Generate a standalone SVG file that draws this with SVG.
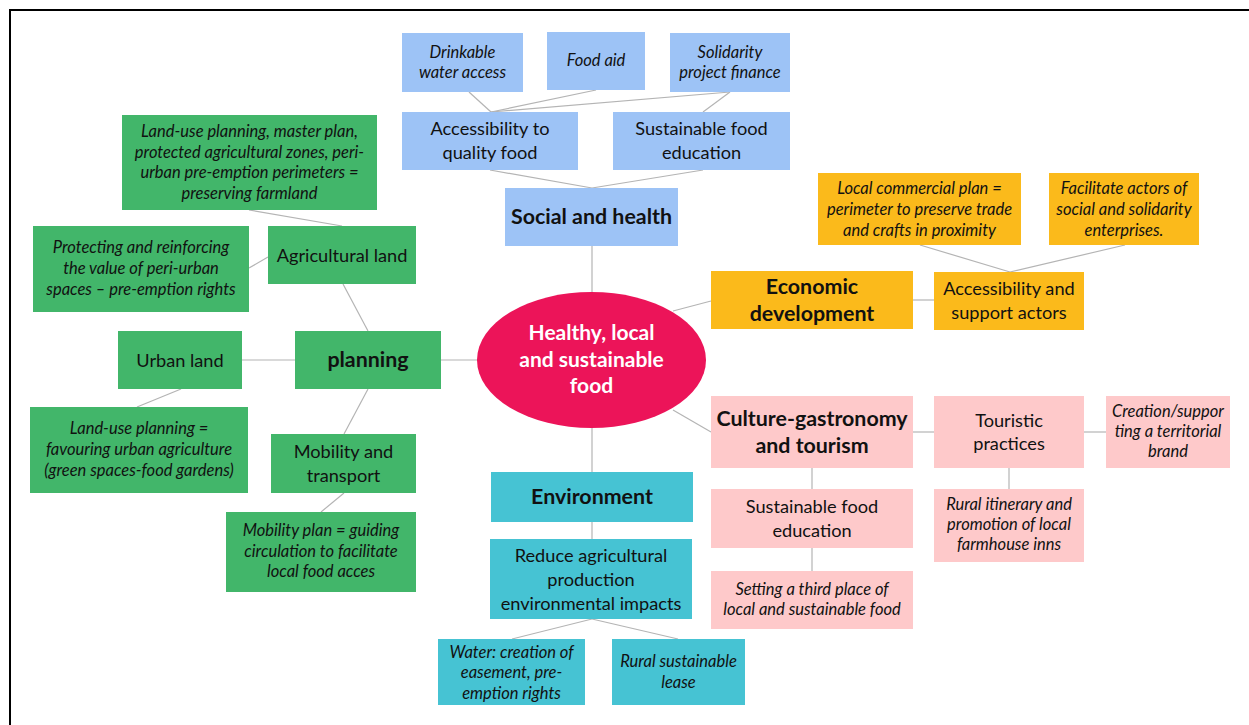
<svg xmlns="http://www.w3.org/2000/svg" width="1249" height="725" viewBox="0 0 1249 725">
<style>
text{font-family:Lato,"Open Sans","Liberation Sans",sans-serif;fill:#111;text-anchor:middle}
.n{font-size:18.2px}
.i{font-size:16.5px;font-style:italic}
.b{font-size:21.4px;font-weight:bold}
.c{font-size:21px;font-weight:bold;fill:#fff}
.blue{fill:#9DC3F6}
.green{fill:#42B66A}
.orange{fill:#FBBA1B}
.pink{fill:#FEC9CA}
.teal{fill:#46C3D3}
#connectors line{stroke:#B4B4B4;stroke-width:1.2}
</style>
<rect width="1249" height="725" fill="#fff"/>
<path d="M10,725 V10 H1249" fill="none" stroke="#000" stroke-width="2"/>
<g id="connectors">
<line x1="469" y1="92" x2="491" y2="112"/>
<line x1="596" y1="90" x2="491" y2="112"/>
<line x1="730" y1="92" x2="491" y2="112"/>
<line x1="730" y1="92" x2="703" y2="112"/>
<line x1="490" y1="170" x2="592" y2="188"/>
<line x1="703" y1="170" x2="592" y2="188"/>
<line x1="592" y1="246" x2="592" y2="292"/>
<line x1="249" y1="210" x2="342" y2="226"/>
<line x1="249" y1="268" x2="268" y2="257"/>
<line x1="343" y1="284" x2="368" y2="331"/>
<line x1="242" y1="360" x2="295" y2="360"/>
<line x1="441" y1="360" x2="478" y2="360"/>
<line x1="181" y1="389" x2="137" y2="407"/>
<line x1="368" y1="389" x2="344" y2="434"/>
<line x1="344" y1="493" x2="321" y2="512"/>
<line x1="673" y1="311" x2="711" y2="301"/>
<line x1="913" y1="300" x2="934" y2="300"/>
<line x1="920" y1="245" x2="1010" y2="272"/>
<line x1="1125" y1="245" x2="1010" y2="272"/>
<line x1="673" y1="410" x2="711" y2="432"/>
<line x1="913" y1="432" x2="934" y2="432"/>
<line x1="1084" y1="432" x2="1106" y2="432"/>
<line x1="1009" y1="468" x2="1009" y2="489"/>
<line x1="812" y1="468" x2="812" y2="489"/>
<line x1="812" y1="548" x2="812" y2="571"/>
<line x1="592" y1="428" x2="592" y2="472"/>
<line x1="592" y1="522" x2="592" y2="539"/>
<line x1="592" y1="619" x2="512" y2="639"/>
<line x1="592" y1="619" x2="678" y2="639"/>
</g>
<g id="center"><ellipse cx="591.5" cy="360" rx="114.5" ry="68" fill="#EC1459"/>
<text class="c" x="591.5" y="340">Healthy, local</text><text class="c" x="591.5" y="367">and sustainable</text><text class="c" x="591.5" y="393">food</text></g>

<g id="drink"><rect class="blue" x="402" y="33" width="121" height="59"/><text class="i" x="462.5" y="58">Drinkable</text><text class="i" x="462.5" y="78">water access</text></g>
<g id="foodaid"><rect class="blue" x="547" y="32" width="98" height="58"/><text class="i" x="596" y="66">Food aid</text></g>
<g id="solidarity"><rect class="blue" x="670" y="33" width="120" height="59"/><text class="i" x="730" y="58">Solidarity</text><text class="i" x="730" y="78">project finance</text></g>
<g id="access"><rect class="blue" x="402" y="112" width="176" height="58"/><text class="n" x="490" y="135">Accessibility to</text><text class="n" x="490" y="159">quality food</text></g>
<g id="sfe"><rect class="blue" x="613" y="112" width="177" height="58"/><text class="n" x="701.5" y="135">Sustainable food</text><text class="n" x="701.5" y="159">education</text></g>
<g id="social"><rect class="blue" x="505" y="188" width="173" height="58"/><text class="b" x="591.5" y="224">Social and health</text></g>

<g id="landuse"><rect class="green" x="122" y="115" width="255" height="95"/><text class="i" x="249.5" y="137">Land-use planning, master plan,</text><text class="i" x="249.5" y="158">protected agricultural zones, peri-</text><text class="i" x="249.5" y="178">urban pre-emption perimeters =</text><text class="i" x="249.5" y="199">preserving farmland</text></g>
<g id="protecting"><rect class="green" x="33" y="226" width="216" height="86"/><text class="i" x="141" y="253">Protecting and reinforcing</text><text class="i" x="141" y="274">the value of peri-urban</text><text class="i" x="141" y="295">spaces – pre-emption rights</text></g>
<g id="agri"><rect class="green" x="268" y="226" width="148" height="58"/><text class="n" x="342" y="262">Agricultural land</text></g>
<g id="urban"><rect class="green" x="118" y="331" width="124" height="58"/><text class="n" x="180" y="367">Urban land</text></g>
<g id="planning"><rect class="green" x="295" y="331" width="146" height="58"/><text class="b" x="368" y="367">planning</text></g>
<g id="favouring"><rect class="green" x="30" y="407" width="218" height="86"/><text class="i" x="139" y="434">Land-use planning =</text><text class="i" x="139" y="455">favouring urban agriculture</text><text class="i" x="139" y="476">(green spaces-food gardens)</text></g>
<g id="mobility"><rect class="green" x="271" y="434" width="145" height="59"/><text class="n" x="343.5" y="458">Mobility and</text><text class="n" x="343.5" y="482">transport</text></g>
<g id="mobplan"><rect class="green" x="226" y="512" width="190" height="80"/><text class="i" x="321" y="536">Mobility plan = guiding</text><text class="i" x="321" y="557">circulation to facilitate</text><text class="i" x="321" y="577">local food acces</text></g>

<g id="local"><rect class="orange" x="818" y="173" width="203" height="72"/><text class="i" x="919.5" y="194">Local commercial plan =</text><text class="i" x="919.5" y="215">perimeter to preserve trade</text><text class="i" x="919.5" y="236">and crafts in proximity</text></g>
<g id="facilitate"><rect class="orange" x="1049" y="173" width="150" height="72"/><text class="i" x="1124" y="194">Facilitate actors of</text><text class="i" x="1124" y="215">social and solidarity</text><text class="i" x="1124" y="236">enterprises.</text></g>
<g id="economic"><rect class="orange" x="711" y="271" width="202" height="58"/><text class="b" x="812" y="294">Economic</text><text class="b" x="812" y="321">development</text></g>
<g id="accsupport"><rect class="orange" x="934" y="272" width="150" height="58"/><text class="n" x="1009" y="295">Accessibility and</text><text class="n" x="1009" y="319">support actors</text></g>

<g id="culture"><rect class="pink" x="711" y="396" width="202" height="72"/><text class="b" x="812" y="426">Culture-gastronomy</text><text class="b" x="812" y="453">and tourism</text></g>
<g id="sfe2"><rect class="pink" x="711" y="489" width="202" height="59"/><text class="n" x="812" y="513">Sustainable food</text><text class="n" x="812" y="537">education</text></g>
<g id="third"><rect class="pink" x="711" y="571" width="202" height="58"/><text class="i" x="812" y="595">Setting a third place of</text><text class="i" x="812" y="615">local and sustainable food</text></g>
<g id="touristic"><rect class="pink" x="934" y="396" width="150" height="72"/><text class="n" x="1009" y="427">Touristic</text><text class="n" x="1009" y="450">practices</text></g>
<g id="creation"><rect class="pink" x="1106" y="396" width="124" height="72"/><text class="i" x="1168" y="417">Creation/suppor</text><text class="i" x="1168" y="437">ting a territorial</text><text class="i" x="1168" y="457">brand</text></g>
<g id="rural"><rect class="pink" x="934" y="489" width="150" height="73"/><text class="i" x="1009" y="510">Rural itinerary and</text><text class="i" x="1009" y="530">promotion of local</text><text class="i" x="1009" y="550">farmhouse inns</text></g>

<g id="environment"><rect class="teal" x="491" y="472" width="202" height="50"/><text class="b" x="592" y="504">Environment</text></g>
<g id="reduce"><rect class="teal" x="490" y="539" width="202" height="80"/><text class="n" x="591" y="562">Reduce agricultural</text><text class="n" x="591" y="586">production</text><text class="n" x="591" y="610">environmental impacts</text></g>
<g id="water"><rect class="teal" x="438" y="639" width="147" height="66"/><text class="i" x="511.5" y="658">Water: creation of</text><text class="i" x="511.5" y="678">easement, pre-</text><text class="i" x="511.5" y="699">emption rights</text></g>
<g id="lease"><rect class="teal" x="612" y="639" width="133" height="66"/><text class="i" x="678.5" y="667">Rural sustainable</text><text class="i" x="678.5" y="688">lease</text></g>
</svg>
